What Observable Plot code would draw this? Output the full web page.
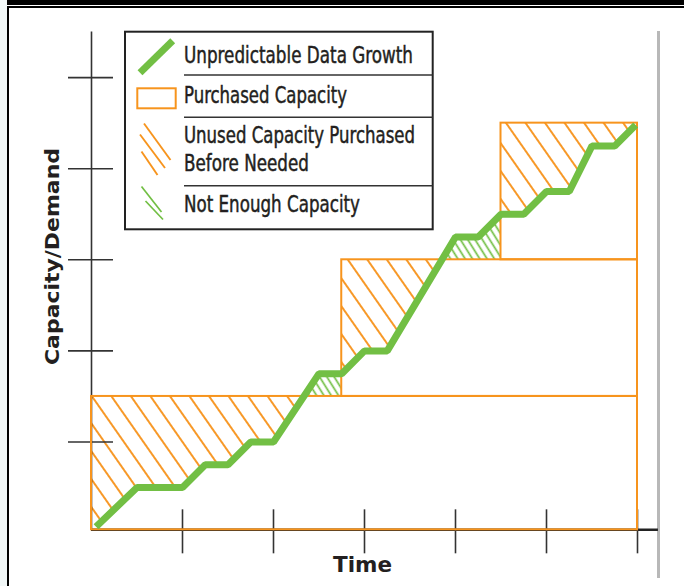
<!DOCTYPE html>
<html>
<head>
<meta charset="utf-8">
<script src="https://cdn.jsdelivr.net/npm/d3@7"></script>
<script src="https://cdn.jsdelivr.net/npm/@observablehq/plot@0.6"></script>
<style>
  html, body { margin: 0; padding: 0; background: #ffffff; }
  #wrap { position: relative; width: 684px; height: 586px; overflow: hidden; background: #ffffff; }
  .deco { position: absolute; }
  #chart { position: absolute; left: 0; top: 0; }
</style>
</head>
<body>
<div id="wrap">
  <div class="deco" style="left:0;top:0;width:7.3px;height:586px;background:#f1f7f7;"></div>
  <div class="deco" style="left:7.3px;top:0;width:677px;height:4.7px;background:#000;"></div>
  <div class="deco" style="left:7.3px;top:6.3px;width:677px;height:1.8px;background:#000;"></div>
  <div class="deco" style="left:7.3px;top:6.3px;width:2.2px;height:580px;background:#000;"></div>
  <div class="deco" style="left:657px;top:30.7px;width:2.6px;height:547px;background:#b8b8b8;"></div>
  <div id="chart"></div>
</div>
<script>
// ---- data ----
const growthX = [0.05, 0.5, 1.0, 1.25, 1.5, 1.75, 2.0, 2.5, 2.75, 3.0, 3.25, 4.0, 4.25, 4.5, 4.75, 5.0, 5.25, 5.5, 5.75, 5.98];
const growthY = [0.07, 0.5, 0.5, 0.75, 0.75, 1.0, 1.0, 1.75, 1.75, 2.0, 2.0, 3.25, 3.25, 3.5, 3.5, 3.75, 3.75, 4.25, 4.25, 4.48];
const purchaseStart = [0, 2.75, 4.5];
const purchaseEnd = 6;
const capacityLevel = [1.5, 3.0, 4.5];
const yFloor = 0.036;
const xTicks = [1, 2, 3, 4, 5, 6];
const yTicks = [1, 2, 3, 4, 5];
const axisXMax = 6.23;
const axisYMax = 5.5;

const ORANGE = "#f7941d";
const GREEN = "#72bf44";
const INK = "#231f20";

const growth = growthX.map((x, i) => ({x, y: growthY[i]}));

const purchases = purchaseStart.map((s, i) => ({
  x1: s, x2: purchaseEnd,
  y1: i === 0 ? yFloor : capacityLevel[i - 1],
  y2: capacityLevel[i]
}));

function lineAt(x) {
  if (x <= growthX[0]) return yFloor;
  for (let i = 0; i < growthX.length - 1; i++) {
    if (x <= growthX[i + 1]) {
      const t = (x - growthX[i]) / (growthX[i + 1] - growthX[i]);
      return growthY[i] + t * (growthY[i + 1] - growthY[i]);
    }
  }
  return growthY[growthY.length - 1];
}

// boundary rows between capacity and growth line for each purchase period
const bandRows = [];
purchaseStart.forEach((x0, i) => {
  const x1 = i < purchaseStart.length - 1 ? purchaseStart[i + 1] : purchaseEnd;
  const c = capacityLevel[i];
  let xs = [x0, ...growthX.filter(x => x > x0 && x < x1), x1];
  const withCross = [xs[0]];
  for (let k = 0; k < xs.length - 1; k++) {
    const a = xs[k], b = xs[k + 1];
    const da = lineAt(a) - c, db = lineAt(b) - c;
    if (da * db < 0) withCross.push(a + (b - a) * da / (da - db));
    withCross.push(b);
  }
  withCross.forEach(x => {
    const l = lineAt(x);
    bandRows.push({seg: i, x, line: l, cap: c});
  });
});

const defsMark = () => {
  const defs = d3.create("svg:defs");
  const po = defs.append("pattern").attr("id", "hatchO")
    .attr("patternUnits", "userSpaceOnUse").attr("width", 16).attr("height", 16)
    .attr("patternTransform", "rotate(-35)");
  po.append("line").attr("x1", 8).attr("x2", 8).attr("y1", -1).attr("y2", 17)
    .attr("stroke", ORANGE).attr("stroke-width", 1.9);
  const pg = defs.append("pattern").attr("id", "hatchG")
    .attr("patternUnits", "userSpaceOnUse").attr("width", 6.2).attr("height", 6.2)
    .attr("patternTransform", "rotate(-32)");
  pg.append("line").attr("x1", 3.1).attr("x2", 3.1).attr("y1", -1).attr("y2", 7.2)
    .attr("stroke", GREEN).attr("stroke-width", 1.7);
  return defs.node();
};

const chart = Plot.plot({
  width: 684,
  height: 586,
  margin: 0,
  style: {background: "transparent", overflow: "visible"},
  x: {domain: [0, 6], range: [91, 637], axis: null},
  y: {domain: [0, 5], range: [532.6, 77.1], axis: null},
  marks: [
    defsMark,
    Plot.areaY(bandRows, {x: "x", y1: d => Math.min(d.line, d.cap), y2: "cap", z: "seg", fill: "url(#hatchO)"}),
    Plot.areaY(bandRows, {x: "x", y1: "cap", y2: d => Math.max(d.line, d.cap), z: "seg", fill: "url(#hatchG)"}),
    Plot.ruleX([0], {y1: yFloor, y2: axisYMax, stroke: "#333", strokeWidth: 1.6}),
    Plot.ruleY([yFloor], {x1: 0, x2: axisXMax, stroke: "#222", strokeWidth: 2.4}),
    Plot.ruleX(xTicks, {y1: yFloor, y2: yFloor, insetTop: -20, insetBottom: -24, stroke: "#333", strokeWidth: 1.6}),
    Plot.ruleY(yTicks, {x1: 0, x2: 0, insetLeft: -23, insetRight: -22, stroke: "#333", strokeWidth: 1.6}),
    Plot.rect(purchases, {x1: "x1", x2: "x2", y1: "y1", y2: "y2", fill: "none", stroke: ORANGE, strokeWidth: 2}),
    Plot.line(growth, {x: "x", y: "y", stroke: GREEN, strokeWidth: 7, strokeLinejoin: "miter", strokeLinecap: "butt"})
  ]
});

document.getElementById("chart").appendChild(chart);

const svg = d3.select(chart);

// axis titles
svg.append("text")
  .attr("x", 362.5).attr("y", 572)
  .attr("text-anchor", "middle")
  .attr("font-family", "'DejaVu Sans', sans-serif").attr("font-weight", "bold")
  .attr("font-size", 21).attr("fill", INK)
  .attr("textLength", 59).attr("lengthAdjust", "spacingAndGlyphs")
  .text("Time");

svg.append("text")
  .attr("transform", "translate(58.5,256.5) rotate(-90)")
  .attr("text-anchor", "middle")
  .attr("font-family", "'DejaVu Sans', sans-serif").attr("font-weight", "bold")
  .attr("font-size", 20).attr("fill", INK)
  .attr("textLength", 217).attr("lengthAdjust", "spacingAndGlyphs")
  .text("Capacity/Demand");

// legend
const lg = svg.append("g").attr("text-anchor", "start");
lg.append("rect").attr("x", 125).attr("y", 31.7).attr("width", 307.7).attr("height", 197.6)
  .attr("fill", "#fff").attr("stroke", "#222").attr("stroke-width", 2);
[75, 117.3, 185.7].forEach(yy => {
  lg.append("line").attr("x1", 184).attr("x2", 432.7).attr("y1", yy).attr("y2", yy)
    .attr("stroke", "#333").attr("stroke-width", 1.6);
});
lg.append("line").attr("x1", 140).attr("y1", 72.7).attr("x2", 172.7).attr("y2", 40.7)
  .attr("stroke", GREEN).attr("stroke-width", 7);
lg.append("rect").attr("x", 137.3).attr("y", 88.3).attr("width", 38.4).attr("height", 20)
  .attr("fill", "none").attr("stroke", ORANGE).attr("stroke-width", 2);
[[144, 123.5, 170.5, 160], [140, 134.5, 165, 168], [141.5, 151.5, 157.5, 175]].forEach(([a, b, c, d]) => {
  lg.append("line").attr("x1", a).attr("y1", b).attr("x2", c).attr("y2", d)
    .attr("stroke", ORANGE).attr("stroke-width", 1.9);
});
[[141.5, 186.5, 161.5, 212], [145.5, 201, 163, 219.5]].forEach(([a, b, c, d]) => {
  lg.append("line").attr("x1", a).attr("y1", b).attr("x2", c).attr("y2", d)
    .attr("stroke", GREEN).attr("stroke-width", 1.7);
});
const legendTexts = [
  ["Unpredictable Data Growth", 62.7, 229],
  ["Purchased Capacity", 103.3, 163],
  ["Unused Capacity Purchased", 143.3, 231],
  ["Before Needed", 170.7, 125],
  ["Not Enough Capacity", 211.7, 176]
];
legendTexts.forEach(([t, yy, w]) => {
  lg.append("text").attr("x", 184).attr("y", yy)
    .attr("text-anchor", "start")
    .attr("font-family", "'Liberation Sans Narrow', 'DejaVu Sans Condensed', sans-serif")
    .attr("font-size", 22.5).attr("fill", INK)
    .attr("stroke", INK).attr("stroke-width", 0.45)
    .attr("textLength", w).attr("lengthAdjust", "spacingAndGlyphs")
    .text(t);
});
</script>
</body>
</html>
